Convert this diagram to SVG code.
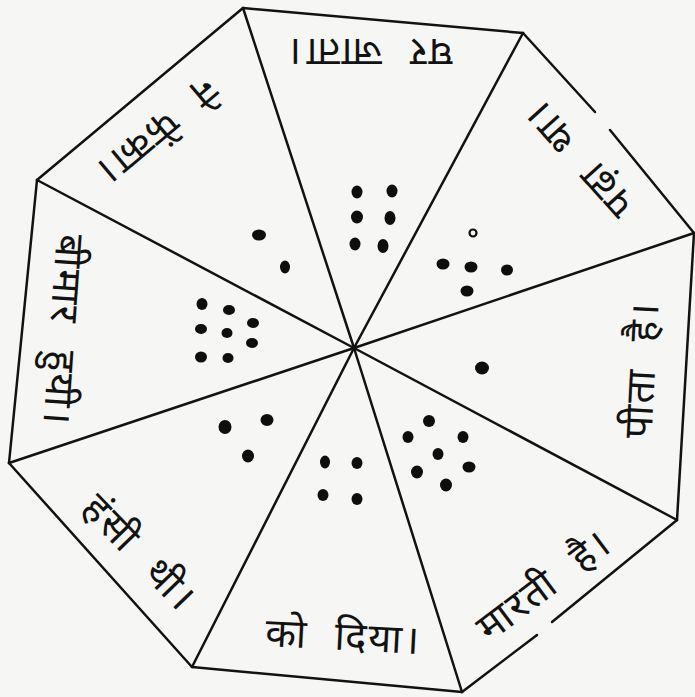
<svg xmlns="http://www.w3.org/2000/svg" width="695" height="697" viewBox="0 0 695 697">
<style>
.bg{fill:#f6f6f4}
.ln{stroke:#121212;stroke-width:2.5;stroke-linecap:round;fill:none}
.dot{fill:#0e0e0e}
.od{fill:none;stroke:#101010;stroke-width:2.2}
.tx{font-family:"Noto Sans Devanagari","Noto Sans","Lohit Devanagari",sans-serif;font-size:40px;letter-spacing:2px;word-spacing:14px;fill:#121212;text-anchor:middle;dominant-baseline:central}
</style>
<rect class="bg" x="0" y="0" width="695" height="697"/>
<g id="edges">
<line class="ln" x1="243" y1="8" x2="523" y2="33"/>
<line class="ln" x1="523" y1="33" x2="595" y2="112"/>
<line class="ln" x1="610" y1="130" x2="694" y2="233"/>
<line class="ln" x1="694" y1="233" x2="677" y2="520"/>
<line class="ln" x1="677" y1="520" x2="552" y2="622"/>
<line class="ln" x1="537" y1="635" x2="462" y2="692"/>
<line class="ln" x1="462" y1="692" x2="192" y2="667"/>
<line class="ln" x1="192" y1="667" x2="9" y2="463"/>
<line class="ln" x1="9" y1="463" x2="37" y2="180"/>
<line class="ln" x1="37" y1="180" x2="243" y2="8"/>
</g>
<g id="spokes">
<line class="ln" x1="354" y1="348" x2="243" y2="8"/>
<line class="ln" x1="354" y1="348" x2="523" y2="33"/>
<line class="ln" x1="354" y1="348" x2="694" y2="233"/>
<line class="ln" x1="354" y1="348" x2="677" y2="520"/>
<line class="ln" x1="354" y1="348" x2="462" y2="692"/>
<line class="ln" x1="354" y1="348" x2="192" y2="667"/>
<line class="ln" x1="354" y1="348" x2="9" y2="463"/>
<line class="ln" x1="354" y1="348" x2="37" y2="180"/>
</g>
<g id="sector-top">
<text class="tx" transform="translate(370,49) rotate(180)">घर जाता।</text>
<ellipse class="dot" cx="357" cy="192" rx="5.5" ry="6.5"/>
<ellipse class="dot" cx="392" cy="191" rx="5.5" ry="6.5"/>
<ellipse class="dot" cx="357" cy="217" rx="6" ry="6.5"/>
<ellipse class="dot" cx="390" cy="218" rx="5.5" ry="7"/>
<ellipse class="dot" cx="355" cy="244" rx="5.5" ry="6.5"/>
<ellipse class="dot" cx="383" cy="246" rx="5.5" ry="7"/>
</g>
<g id="sector-top-right">
<text class="tx" transform="translate(582,157) rotate(-132)">पढ़ा था।</text>
<circle class="od" cx="473" cy="233" r="3.5"/>
<ellipse class="dot" cx="443" cy="264" rx="6.5" ry="5.5"/>
<ellipse class="dot" cx="471" cy="267" rx="6.5" ry="5.5"/>
<ellipse class="dot" cx="507" cy="270" rx="6" ry="5.5"/>
<ellipse class="dot" cx="467" cy="291" rx="6.5" ry="5.5"/>
</g>
<g id="sector-right">
<text class="tx" transform="translate(645,370) rotate(-87)">पीता है।</text>
<ellipse class="dot" cx="482" cy="368" rx="7" ry="6.5"/>
</g>
<g id="sector-bottom-right">
<text class="tx" transform="translate(546,588) rotate(-37)">मारती है।</text>
<ellipse class="dot" cx="429" cy="421" rx="6" ry="6"/>
<ellipse class="dot" cx="408" cy="437" rx="5.5" ry="6"/>
<ellipse class="dot" cx="463" cy="437" rx="5.5" ry="6"/>
<ellipse class="dot" cx="438" cy="454" rx="5.5" ry="6"/>
<ellipse class="dot" cx="469" cy="467" rx="6.5" ry="5.5"/>
<ellipse class="dot" cx="417" cy="472" rx="6" ry="6.5"/>
<ellipse class="dot" cx="446" cy="485" rx="6" ry="6.5"/>
</g>
<g id="sector-bottom">
<text class="tx" transform="translate(343,640) rotate(3)">को दिया।</text>
<ellipse class="dot" cx="325" cy="462" rx="5" ry="6.5"/>
<ellipse class="dot" cx="357" cy="463" rx="5.5" ry="6"/>
<ellipse class="dot" cx="323" cy="495" rx="5.5" ry="6"/>
<ellipse class="dot" cx="357" cy="499" rx="5.5" ry="6"/>
</g>
<g id="sector-bottom-left">
<text class="tx" transform="translate(137,555) rotate(46)">हंसी थी।</text>
<ellipse class="dot" cx="225" cy="427" rx="6.5" ry="7"/>
<ellipse class="dot" cx="267" cy="420" rx="6.5" ry="6"/>
<ellipse class="dot" cx="248" cy="456" rx="6" ry="6.5"/>
</g>
<g id="sector-left">
<text class="tx" transform="translate(60,330) rotate(94)">बीमार हुयी।</text>
<ellipse class="dot" cx="202" cy="304" rx="5.5" ry="6"/>
<ellipse class="dot" cx="229" cy="310" rx="6" ry="5"/>
<ellipse class="dot" cx="253" cy="323" rx="6" ry="5"/>
<ellipse class="dot" cx="201" cy="329" rx="6" ry="5"/>
<ellipse class="dot" cx="227" cy="333" rx="5.5" ry="5"/>
<ellipse class="dot" cx="252" cy="343" rx="6" ry="5"/>
<ellipse class="dot" cx="201" cy="357" rx="6" ry="5.5"/>
<ellipse class="dot" cx="228" cy="358" rx="5.5" ry="5"/>
</g>
<g id="sector-top-left">
<text class="tx" transform="translate(155,128) rotate(140)">ने फेंका।</text>
<ellipse class="dot" cx="259" cy="235" rx="7" ry="5.5"/>
<ellipse class="dot" cx="285" cy="267" rx="5" ry="6.5"/>
</g>
</svg>
